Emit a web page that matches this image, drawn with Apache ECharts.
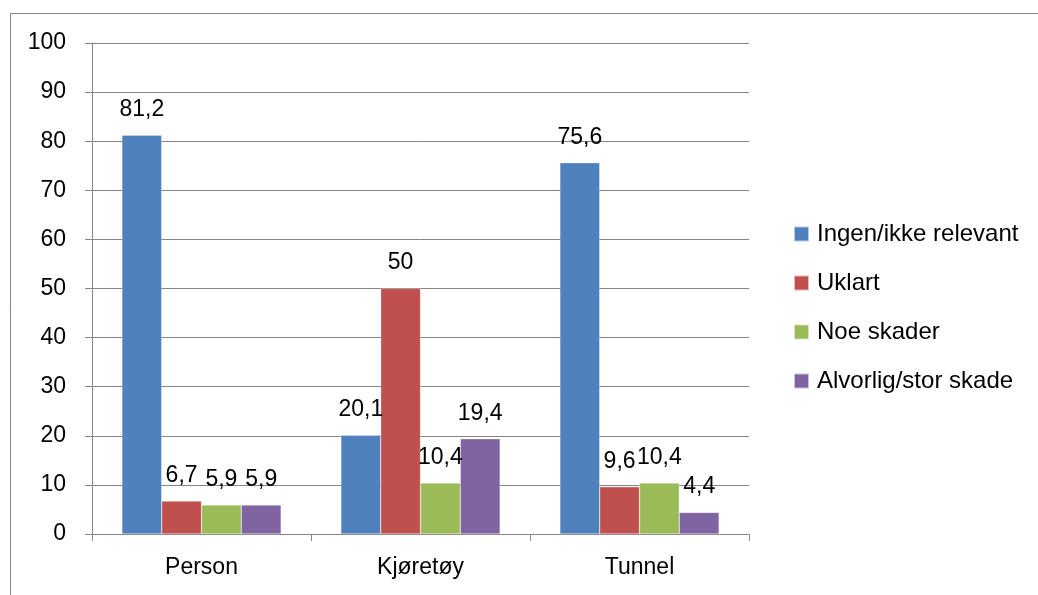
<!DOCTYPE html>
<html>
<head>
<meta charset="utf-8">
<script src="https://cdn.jsdelivr.net/npm/echarts@6/dist/echarts.min.js"></script>
<style>
html,body{margin:0;padding:0;background:#fff;}
#chart{width:1038px;height:595px;}
</style>
</head>
<body>
<div id="chart"></div>
<script>
const categories = ['Person', 'Kjøretøy', 'Tunnel'];
const seriesNames = ['Ingen/ikke relevant', 'Uklart', 'Noe skader', 'Alvorlig/stor skade'];
const ingen = [81.2, 20.1, 75.6];
const uklart = [6.7, 50, 9.6];
const noeSkader = [5.9, 10.4, 10.4];
const alvorlig = [5.9, 19.4, 4.4];
const colors = ['#4F81BD', '#C0504D', '#9BBB59', '#8064A2'];
const FONT = '"Liberation Sans", Arial, sans-serif';

const chart = echarts.init(document.getElementById('chart'), null, {renderer: 'canvas'});
const dataSets = [ingen, uklart, noeSkader, alvorlig];
const fmt = p => String(p.value).replace('.', ',');

chart.setOption({
  animation: false,
  textStyle: {fontFamily: FONT},
  graphic: [{
    type: 'rect',
    shape: {x: 10.5, y: 13.5, width: 1100, height: 700},
    style: {fill: 'none', stroke: '#868686', lineWidth: 1},
    silent: true
  }],
  grid: {left: 92, top: 43, right: 289, bottom: 61, containLabel: false},
  legend: {
    orient: 'vertical',
    left: 788,
    top: 217,
    itemWidth: 15,
    itemHeight: 15,
    itemGap: 25,
    icon: 'rect',
    data: seriesNames,
    textStyle: {fontFamily: FONT, fontSize: 24, color: '#000', lineHeight: 24, padding: [0, 0, 0, 3]}
  },
  xAxis: {
    type: 'category',
    data: categories,
    axisLine: {lineStyle: {color: '#868686', width: 1}},
    axisTick: {show: true, length: 7, alignWithLabel: false, lineStyle: {color: '#868686'}},
    axisLabel: {color: '#000', fontSize: 23, fontFamily: FONT, margin: 22}
  },
  yAxis: {
    type: 'value',
    min: 0, max: 100, interval: 10,
    axisLine: {show: true, lineStyle: {color: '#868686', width: 1}},
    axisTick: {show: true, length: 7, inside: false, lineStyle: {color: '#868686'}},
    axisLabel: {color: '#000', fontSize: 23, fontFamily: FONT, margin: 26},
    splitLine: {show: true, lineStyle: {color: '#868686', width: 1}}
  },
  series: seriesNames.map((name, i) => ({
    name: name,
    type: 'bar',
    data: dataSets[i],
    barGap: '0%',
    barCategoryGap: '27.3%',
    itemStyle: {color: colors[i], borderColor: 'rgba(255,255,255,0.6)', borderWidth: 0.5},
    label: {
      show: true,
      position: 'top',
      distance: 14,
      color: '#000',
      fontSize: 23,
      fontFamily: FONT,
      formatter: fmt
    }
  }))
});
</script>
</body>
</html>
